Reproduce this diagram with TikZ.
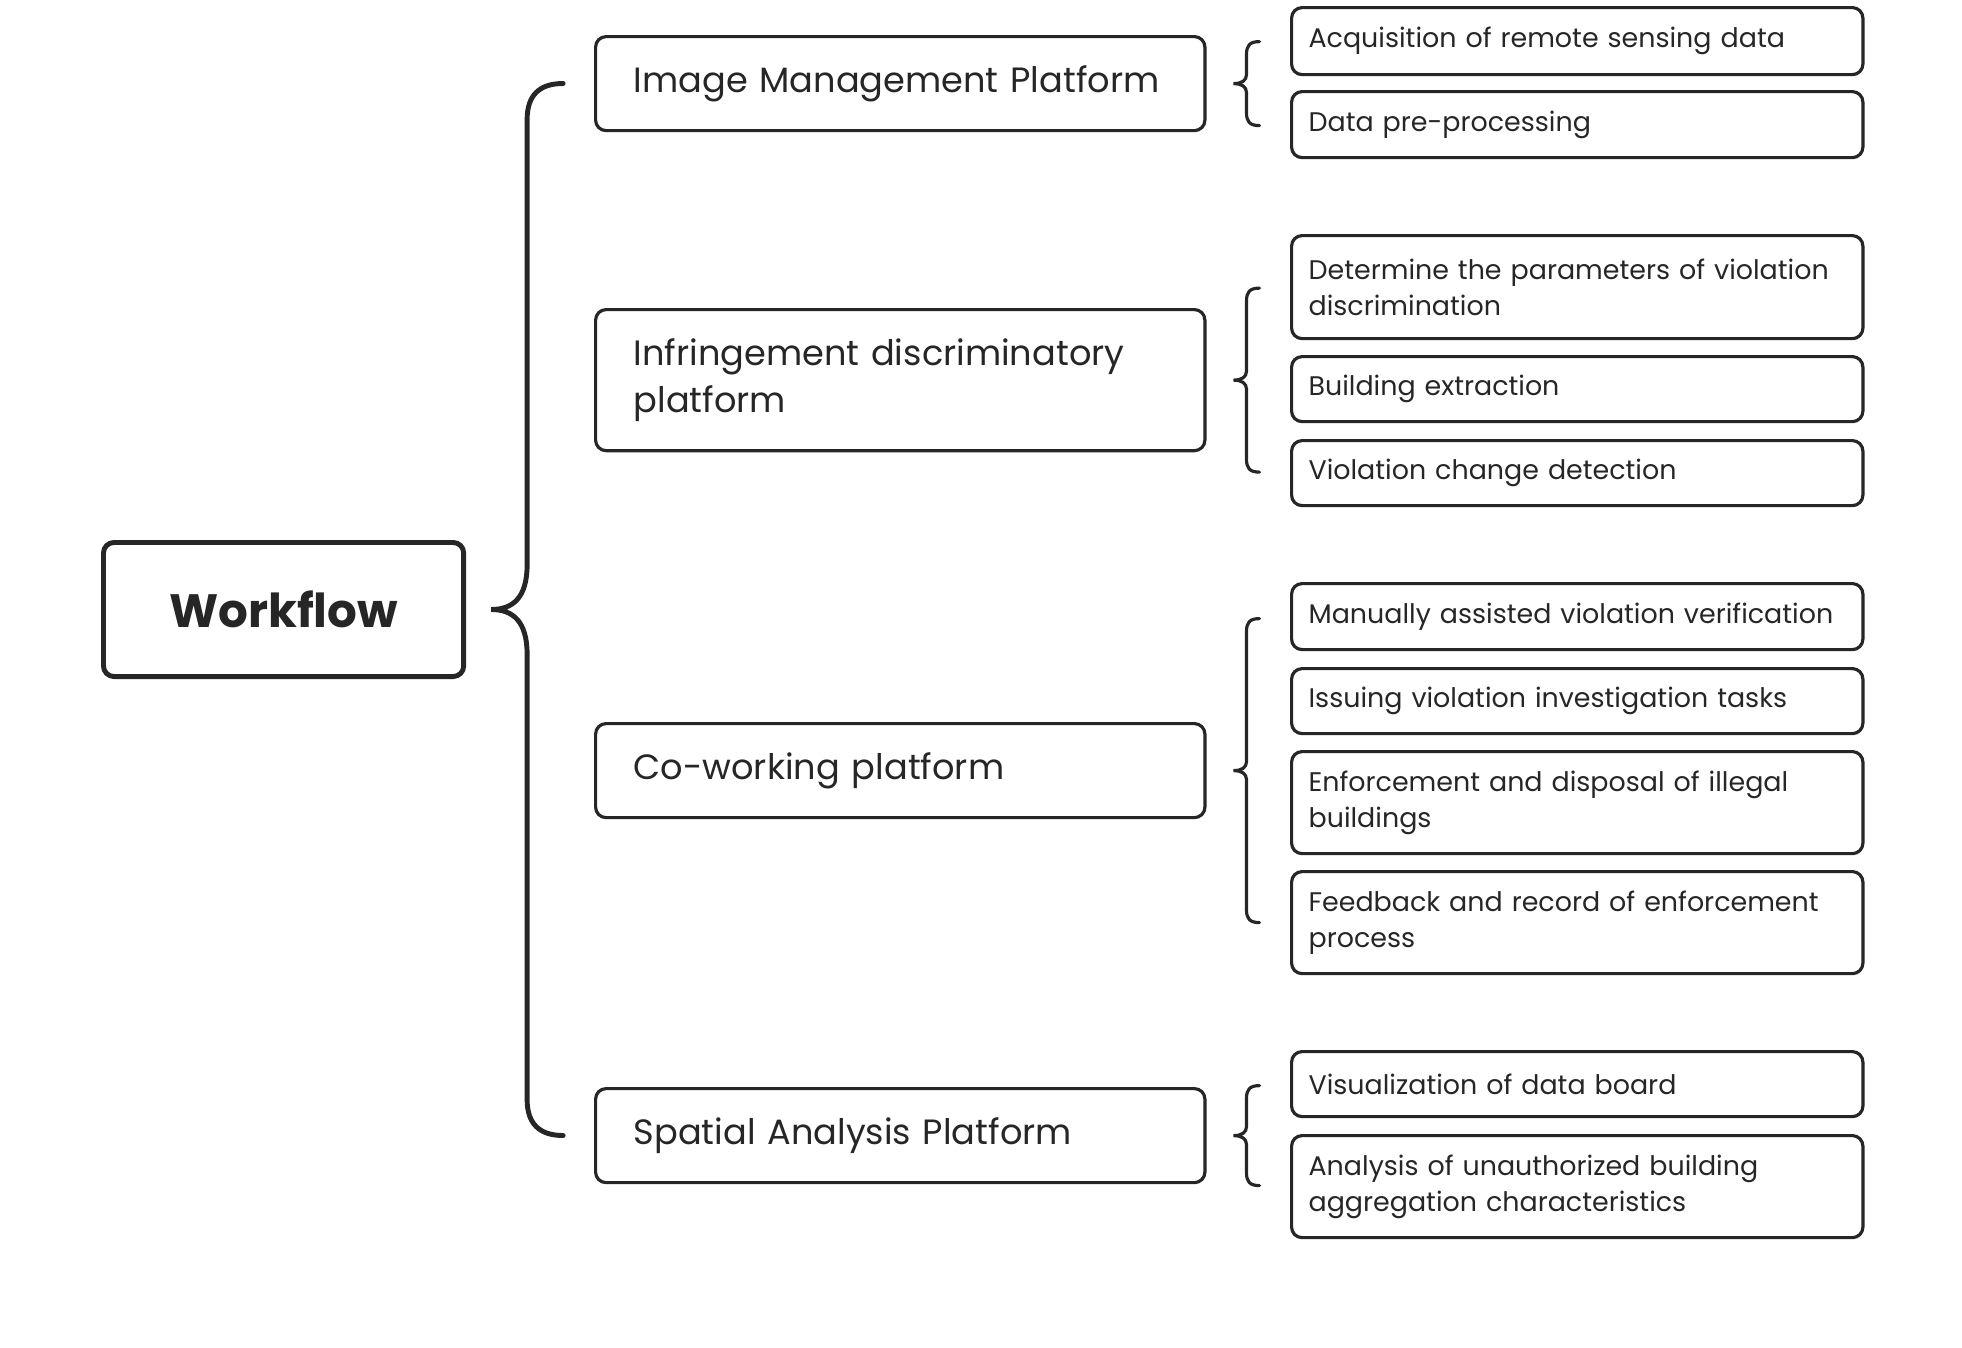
\documentclass[tikz,border=0pt]{standalone}
\usepackage{fontspec}
\setmainfont{Poppins}
\usetikzlibrary{calc}

\begin{document}
\begin{tikzpicture}[x=0.01cm, y=-0.01cm,
    box/.style={draw=black!85, line width=0.9pt, rounded corners=3pt, text=black!85, anchor=north west, inner sep=0pt},
    root/.style={box, line width=1.4pt, minimum width=3.6cm, minimum height=1.34cm, font=\fontsize{13.3}{16}\selectfont\bfseries},
    plat/.style={box, minimum width=6.09cm, text width=5.33cm, align=left, font=\fontsize{10}{13.5}\selectfont},
    task/.style={box, minimum width=5.71cm, text width=5.37cm, align=left, font=\fontsize{7.65}{10.3}\selectfont},
    brace/.style={draw=black!85, line width=0.9pt, line cap=round}]
        \useasboundingbox (0,0) rectangle (1962,1348);

        \node[root] (wf) at (101,540) {Workflow};

        \node[plat, minimum height=0.94cm] (imp) at (594,35) {Image Management Platform};
        \node[plat, minimum height=1.41cm] (idp) at (594,308) {Infringement discriminatory\\platform};
        \node[plat, minimum height=0.94cm] (cwp) at (594,722) {Co-working platform};
        \node[plat, minimum height=0.94cm] (sap) at (594,1087) {Spatial Analysis Platform};

        \node[task, minimum height=0.67cm] (acq) at (1290,6) {Acquisition of remote sensing data};
        \node[task, minimum height=0.66cm] (dpp) at (1290,90) {Data pre-processing};
        \node[task, minimum height=1.03cm] (det) at (1290,234) {Determine the parameters of violation\\discrimination};
        \node[task, minimum height=0.65cm] (bex) at (1290,355) {Building extraction};
        \node[task, minimum height=0.65cm] (vcd) at (1290,439) {Violation change detection};
        \node[task, minimum height=0.66cm] (mav) at (1290,582) {Manually assisted violation verification};
        \node[task, minimum height=0.65cm] (ivt) at (1290,667) {Issuing violation investigation tasks};
        \node[task, minimum height=1.02cm] (edi) at (1290,750) {Enforcement and disposal of illegal\\buildings};
        \node[task, minimum height=1.02cm] (frp) at (1290,870) {Feedback and record of enforcement\\process};
        \node[task, minimum height=0.65cm] (vdb) at (1290,1050) {Visualization of data board};
        \node[task, minimum height=1.02cm] (aua) at (1290,1134) {Analysis of unauthorized building\\aggregation characteristics};

        % big brace from the root to the platforms
        \draw[brace, line width=1.4pt, shift={($(wf.east)+(25,0)$)}]
            (72,-526) .. controls (48,-526) and (36,-514) .. (36,-490) -- (36,-45)
            .. controls (36,-12) and (22,0) .. (0,0)
            .. controls (22,0) and (36,12) .. (36,45) -- (36,490)
            .. controls (36,514) and (48,526) .. (72,526);

        % small braces from the platforms to the tasks
        \foreach \p/\h in {imp/42, idp/92, cwp/152, sap/50}
            \draw[brace, shift={($(\p.east)+(27,0)$)}]
                (26,-\h) .. controls (16,-\h) and (13,-\h+4) .. (13,-\h+13) -- (13,-9)
                .. controls (13,-3) and (8,0) .. (0,0)
                .. controls (8,0) and (13,3) .. (13,9) -- (13,\h-13)
                .. controls (13,\h-4) and (16,\h) .. (26,\h);

\end{tikzpicture}
\end{document}
